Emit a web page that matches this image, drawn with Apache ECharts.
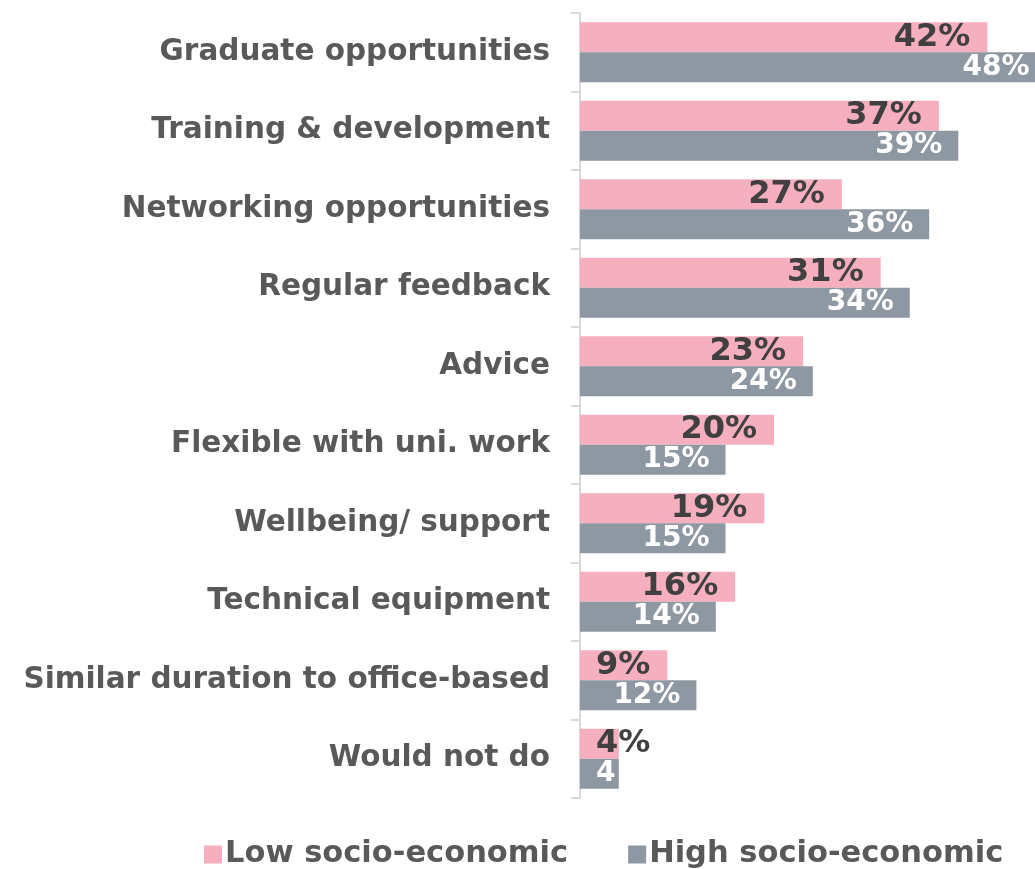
<!DOCTYPE html>
<html>
<head>
<meta charset="utf-8">
<script src="https://cdn.jsdelivr.net/npm/echarts@6/dist/echarts.min.js"></script>
<style>
  html, body { margin: 0; padding: 0; background: #ffffff; }
  #chart { width: 1035px; height: 869px; }
</style>
</head>
<body>
<div id="chart"></div>
<script>
// Workplace features valued, by socio-economic background (%)
const categories = [
  'Graduate opportunities',
  'Training & development',
  'Networking opportunities',
  'Regular feedback',
  'Advice',
  'Flexible with uni. work',
  'Wellbeing/ support',
  'Technical equipment',
  'Similar duration to office-based',
  'Would not do'
];
const lowSocio = [42, 37, 27, 31, 23, 20, 19, 16, 9, 4];
const highSocio = [48, 39, 36, 34, 24, 15, 15, 14, 12, 4];
const seriesNames = ['Low socio-economic', 'High socio-economic'];

const FONT = '"DejaVu Sans", sans-serif';
const PINK = '#F6AFBE';
const GREY = '#8E98A2';

// Very short bars carry their label from the bar's base instead of its end
function withLabels(values, pctSuffix) {
  return values.map(function (v) {
    if (v < 5) {
      return {
        value: v,
        label: {
          position: 'insideLeft',
          distance: 16,
          formatter: pctSuffix ? '{c}%' : '{c}'
        }
      };
    }
    return v;
  });
}

const chart = echarts.init(document.getElementById('chart'), null, { renderer: 'canvas' });

chart.setOption({
  animation: false,
  backgroundColor: '#ffffff',
  // the plot runs past the right edge of the canvas, so the longest bar is cut off
  grid: { left: 580, top: 13, width: 485, height: 785, containLabel: false, outerBoundsMode: 'none' },
  legend: {
    bottom: -6,
    left: 199,
    itemWidth: 18,
    itemHeight: 18,
    itemGap: 60,
    icon: 'rect',
    textStyle: { fontFamily: FONT, fontWeight: 'bold', fontSize: 30.5, color: '#595959', padding: [0, 0, 0, -2] },
    data: seriesNames
  },
  xAxis: {
    type: 'value',
    min: 0,
    max: 50,
    show: false,
    splitLine: { show: false }
  },
  yAxis: {
    type: 'category',
    inverse: true,
    data: categories,
    axisLine: { show: true, lineStyle: { color: '#D9D9D9', width: 2 } },
    axisTick: { show: true, length: 9, lineStyle: { color: '#D9D9D9', width: 2 } },
    axisLabel: {
      margin: 30,
      fontFamily: FONT,
      fontWeight: 'bold',
      fontSize: 29.5,
      color: '#595959'
    }
  },
  series: [
    {
      name: seriesNames[0],
      type: 'bar',
      data: withLabels(lowSocio, true),
      barWidth: 30,
      barGap: '0%',
      itemStyle: { color: PINK },
      label: {
        show: true,
        position: 'insideRight',
        distance: 17,
        formatter: '{c}%',
        fontFamily: FONT,
        fontWeight: 'bold',
        fontSize: 32,
        color: '#404040'
      }
    },
    {
      name: seriesNames[1],
      type: 'bar',
      data: withLabels(highSocio, false),
      barWidth: 30,
      barGap: '0%',
      itemStyle: { color: GREY },
      label: {
        show: true,
        position: 'insideRight',
        distance: 16,
        formatter: '{c}%',
        fontFamily: FONT,
        fontWeight: 'bold',
        fontSize: 28,
        color: '#ffffff'
      }
    }
  ]
});
</script>
</body>
</html>
